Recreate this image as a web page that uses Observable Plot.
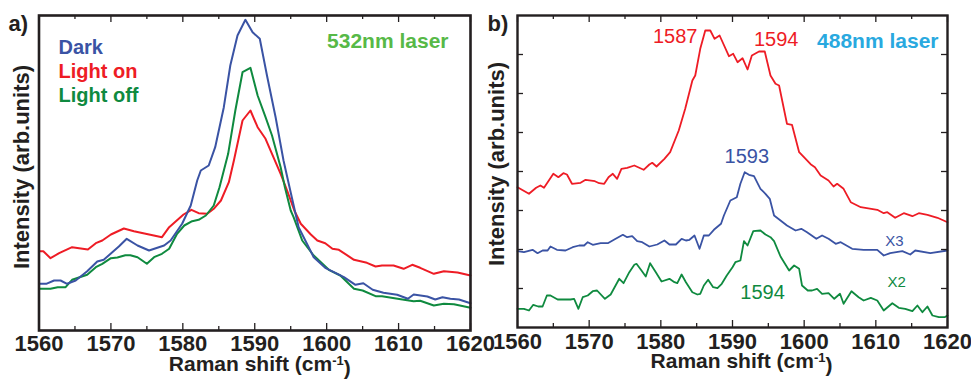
<!DOCTYPE html>
<html><head><meta charset="utf-8">
<script src="https://cdn.jsdelivr.net/npm/d3@7"></script>
<script src="https://cdn.jsdelivr.net/npm/@observablehq/plot@0.6"></script>
<style>
body{margin:0;background:#fff;}
#wrap{position:relative;width:971px;height:380px;overflow:hidden;background:#fff;}
#wrap svg{position:absolute;top:0;overflow:visible;}
</style></head><body><div id="wrap"></div>
<script>
// ---------- data (Raman shift cm-1, intensity arb. units) ----------
const xMajor = [1560, 1570, 1580, 1590, 1600, 1610, 1620];
const xMinor = [1565, 1575, 1585, 1595, 1605, 1615];
const bYTicks = [39, 78, 117, 156, 195, 234, 273];

// Panel a (532 nm)
const aDark = [[1560,46.7],[1561,46.7],[1562.1,50],[1563,50],[1563.9,46.7],[1565.1,50],[1566.7,59.3],[1568.1,69],[1569,70.7],[1571.1,84],[1572.2,91.7],[1573.7,85],[1575.3,80],[1577.4,85],[1578.3,90],[1579.9,106.7],[1581.1,125],[1582,150],[1582.5,160],[1583.6,165],[1584.5,183.3],[1585.7,223.3],[1586.6,265],[1587.6,295],[1588.7,310.7],[1589.7,298.3],[1590.7,291.7],[1591.7,255],[1592.9,213.3],[1594,170],[1595,138],[1596.1,103.3],[1598.2,73.3],[1599.8,62.7],[1601,58.3],[1602.4,53.3],[1604,45.7],[1605.1,47.3],[1606.4,40.7],[1607.9,37.7],[1609.8,35.7],[1611.3,31.7],[1612.1,36],[1614,34],[1615.1,31],[1616.1,33.3],[1617.2,31.7],[1618.4,31],[1620,27.3]];
const aLightOn = [[1560,79.3],[1560.6,79.3],[1561.6,72.3],[1562.8,77.3],[1564.6,83.3],[1566.8,81],[1567.9,87.3],[1568.8,90],[1570,96],[1571.8,102],[1573.2,99.3],[1577.1,93.3],[1578.1,103.3],[1580.1,116],[1581.2,120.7],[1582.2,117.3],[1583.4,116.7],[1584.3,121.7],[1585.3,130],[1586.4,148.3],[1587.1,170],[1588.3,210],[1589.4,220],[1590.4,203.3],[1591.5,191.7],[1592.4,176.7],[1593.6,156.7],[1594.5,140],[1595.5,120],[1596.4,106.7],[1597.8,96],[1598.7,90],[1599.8,87.3],[1600.8,81.7],[1601.7,80.7],[1603.8,70.7],[1605.6,67.7],[1606.8,64],[1607.7,65],[1609.3,65],[1610.7,61.7],[1611.9,65.7],[1613,62.7],[1614.9,56.7],[1616.3,59.3],[1618.2,58],[1620,55]];
const aLightOff = [[1560,41.7],[1561.6,41.7],[1562.6,43.3],[1563.7,43.3],[1564.6,50.7],[1566.7,55.7],[1567.9,63.3],[1568.8,66.7],[1570,72.3],[1570.9,73],[1572,75.3],[1572.7,75.3],[1573.7,73.3],[1575,66.7],[1576,73.3],[1577.1,76.7],[1578.1,81.7],[1579.2,96.7],[1580.2,105],[1581.3,109.3],[1582.2,110.7],[1583.2,115],[1584.3,125],[1585.1,143.3],[1586.3,176.7],[1587.3,220],[1588.3,258.3],[1589.4,262.7],[1590.4,235],[1591.5,213.3],[1592.4,195],[1593.6,163.3],[1594.2,143],[1595,120],[1595.4,113.3],[1596.6,90],[1598.2,75],[1600.3,60.7],[1601.9,55],[1603.8,41.7],[1605,40],[1606.8,34.3],[1607.7,34.3],[1610.3,31.3],[1612.1,29.3],[1613,29.7],[1614.9,25],[1616.3,26.7],[1617.7,26.3],[1620,22.7]];

// Panel b (488 nm)
const bRed = [[1560,140.3],[1561.6,133.7],[1562.6,139.7],[1563.2,142],[1563.7,139.7],[1565,153.7],[1565.7,150.3],[1566.4,154.3],[1566.9,153],[1567.6,143.7],[1568.8,144.7],[1569.5,147.7],[1570.8,146.3],[1571.4,144.3],[1572.1,143.7],[1572.7,150.3],[1573.3,153.7],[1573.9,148.7],[1574.5,158.7],[1575.3,159.7],[1576.3,162],[1577.6,157.7],[1578.4,163],[1578.8,164.7],[1579.4,161],[1580.5,168.7],[1581.3,175.3],[1582.5,197],[1583.4,218.7],[1584.4,247],[1584.8,252],[1585.5,278.7],[1586.2,297],[1586.9,297],[1587.5,288.7],[1588.2,292],[1589.5,271.3],[1590.1,273.7],[1590.7,265.3],[1591.4,269.3],[1592.1,258],[1592.7,272],[1593.7,276],[1594.5,276],[1595.3,252],[1596,243.7],[1596.5,242],[1597.6,203.7],[1598.3,202.7],[1599.3,175.3],[1600.9,163.3],[1601.5,160.3],[1602.3,152],[1603.4,147],[1604.1,141],[1604.6,143.7],[1605.5,138.7],[1606.5,125.3],[1607.9,120.3],[1610.2,117.7],[1611.1,114.3],[1611.6,115.3],[1612.7,109.7],[1613.9,114.3],[1615.1,111.3],[1616,114.3],[1617.2,112.7],[1618.6,109.7],[1620,105.3]];
const bBlue = [[1560,76.3],[1560.9,75.3],[1562.1,77.7],[1562.8,74.3],[1563.5,77],[1564.2,77],[1564.6,81],[1565.5,77.7],[1566.7,77],[1567.7,80.3],[1568.6,82],[1569.3,82],[1569.8,85.3],[1570.5,82.7],[1571.6,84.3],[1572.6,84.3],[1573.7,88.7],[1574.7,92.7],[1575.3,90.3],[1576,91.3],[1576.7,86.3],[1577.4,85.3],[1578.4,81],[1579.5,83],[1580.5,87],[1581.2,83],[1582.1,83],[1582.9,88.7],[1583.5,87],[1584,87.7],[1584.7,92],[1585.4,78.7],[1586,92],[1586.7,92],[1587.4,97.7],[1588.4,103.7],[1588.8,112],[1589.7,127],[1590.6,130.3],[1591.1,143.7],[1591.7,155.3],[1592.3,152.7],[1593,151.3],[1593.9,138.7],[1594.6,133.7],[1595.2,128.7],[1595.8,112],[1596.7,107],[1597.6,102],[1598.8,97],[1599.6,98.7],[1600.4,95.3],[1601.7,88.7],[1602.5,92],[1603.4,88.7],[1604.4,83.7],[1605.1,85.3],[1606.7,78.7],[1608.3,77.7],[1610.2,77.7],[1611.1,72],[1612,74.3],[1613.7,76.3],[1614.8,73],[1615.5,77],[1617.6,74.3],[1620,77]];
const bGreen = [[1560,18.7],[1560.9,18.7],[1561.6,17],[1562.2,22.7],[1562.9,21],[1563.5,21],[1564.1,32],[1564.6,32],[1565.6,28],[1567.4,28],[1567.9,28.7],[1568.5,18.7],[1569.1,30.3],[1569.8,32],[1570.5,36.3],[1571.1,37],[1572.2,28.7],[1573,33],[1574.2,48.7],[1574.8,44.3],[1575.6,55.3],[1576.3,62.7],[1576.6,63.7],[1577.3,57],[1577.9,51],[1578.5,64.3],[1579.3,55.3],[1580.1,46],[1581.2,48.7],[1581.9,45.3],[1582.3,44.3],[1582.9,53],[1583.5,45.3],[1584.4,35.3],[1585.1,33],[1585.5,33.7],[1586,42],[1586.6,47.7],[1587.3,40.3],[1587.9,39.3],[1588.5,43.7],[1589.2,52],[1590,60.3],[1590.4,65.3],[1591.1,67],[1591.6,86.3],[1592.1,82],[1592.9,96.3],[1593.9,97],[1594.6,93],[1595.3,90.3],[1595.8,86.3],[1596.7,71],[1597.9,57],[1598.6,62],[1599.3,58.7],[1599.7,42],[1600.5,37],[1601.1,37],[1601.8,38.7],[1602.5,33.7],[1603.4,34.3],[1604.2,28.7],[1605,33.7],[1605.5,23.7],[1606.6,36.3],[1607.6,30.3],[1608.3,27],[1609.3,29.7],[1610.2,27],[1611.1,17],[1612.3,24.3],[1613.2,19.7],[1614.1,18.7],[1615.1,16.3],[1615.8,22],[1616.5,15.3],[1617.2,21],[1617.9,12],[1618.8,10.3],[1619.6,10.3],[1620,12]];

// Text content
const legendA = ["Dark", "Light on", "Light off"];
const peakLabelsB = [
  {text: "1587", x: 1582.0, y: 291.4, series: "red", size: 20},
  {text: "1594", x: 1596.1, y: 288.4, series: "red", size: 20},
  {text: "1593", x: 1592.0, y: 171.4, series: "blue", size: 20},
  {text: "1594", x: 1594.2, y: 35.4, series: "green", size: 20},
  {text: "X3", x: 1612.6, y: 86.5, series: "blue", size: 15},
  {text: "X2", x: 1612.9, y: 45.5, series: "green", size: 15}
];

// ---------- styling ----------
const FONT = '"Liberation Sans", Arial, Helvetica, sans-serif';
const INK = "#231f20";
const C = {blue: "#3a53a4", red: "#ee1c25", green: "#0f8a3f", lgreen: "#57b947", lblue: "#29a9df"};
const legendColors = [C.blue, C.red, C.green];
const XLABEL = "Raman shift (cm-1)";
const YLABEL = "Intensity (arb.units)";

function tickMarks(innerH, innerW, yTicks) {
  const m = [];
  const sw = 1.3;
  m.push(Plot.tickX(xMajor, {x: d => d, insetTop: innerH - 7, stroke: INK, strokeWidth: sw}));
  m.push(Plot.tickX(xMajor, {x: d => d, insetBottom: innerH - 7, stroke: INK, strokeWidth: sw}));
  m.push(Plot.tickX(xMinor, {x: d => d, insetTop: innerH - 4, stroke: INK, strokeWidth: sw}));
  m.push(Plot.tickX(xMinor, {x: d => d, insetBottom: innerH - 4, stroke: INK, strokeWidth: sw}));
  if (yTicks) {
    m.push(Plot.tickY(yTicks, {y: d => d, insetRight: innerW - 6, stroke: INK, strokeWidth: sw}));
    m.push(Plot.tickY(yTicks, {y: d => d, insetLeft: innerW - 6, stroke: INK, strokeWidth: sw}));
  }
  return m;
}

function commonText(tag, tagDx, labelPad, ylabDx, ylabDy, xlabDx) {
  return [
    Plot.text(xMajor, {x: d => d, frameAnchor: "bottom", dy: labelPad, lineAnchor: "top", textAnchor: "middle", text: d => String(d), fontSize: 22, fontWeight: "bold", fill: INK}),
    Plot.text([XLABEL], {frameAnchor: "bottom", dy: 34, dx: xlabDx, lineAnchor: "middle", textAnchor: "middle", text: d => d, fontSize: 21, fontWeight: "bold", fill: INK}),
    Plot.text([YLABEL], {frameAnchor: "left", rotate: -90, dx: ylabDx, dy: ylabDy, lineAnchor: "middle", textAnchor: "middle", text: d => d, fontSize: 22, fontWeight: "bold", fill: INK}),
    Plot.text([tag], {frameAnchor: "top-left", dx: tagDx, dy: 8, textAnchor: "start", lineAnchor: "middle", text: d => d, fontSize: 22, fontWeight: "bold", fill: INK})
  ];
}

// ---------- panel a ----------
const aW = 485, aH = 380, aML = 38.5, aMR = 15, aMT = 15, aMB = 50;
const aInnerH = aH - aMT - aMB, aInnerW = aW - aML - aMR;
const plotA = Plot.plot({
  width: aW, height: aH, marginLeft: aML, marginRight: aMR, marginTop: aMT, marginBottom: aMB,
  x: {domain: [1560, 1620], axis: null},
  y: {domain: [0, 315], axis: null},
  style: {fontFamily: FONT, background: "transparent", overflow: "visible"},
  marks: [
    Plot.line(aLightOn, {x: d => d[0], y: d => d[1], stroke: C.red, strokeWidth: 2}),
    Plot.line(aLightOff, {x: d => d[0], y: d => d[1], stroke: C.green, strokeWidth: 2}),
    Plot.line(aDark, {x: d => d[0], y: d => d[1], stroke: C.blue, strokeWidth: 2}),
    ...tickMarks(aInnerH, aInnerW, null),
    Plot.frame({stroke: INK, strokeWidth: 2.6}),
    ...legendA.map((t, i) => Plot.text([t], {frameAnchor: "top-left", dx: 19.5, dy: 31.6 + 24 * i, text: d => d, fontSize: 20, fontWeight: "bold", textAnchor: "start", lineAnchor: "middle", fill: legendColors[i]})),
    Plot.text(["532nm laser"], {frameAnchor: "top-right", dx: -22, dy: 25.6, textAnchor: "end", lineAnchor: "middle", text: d => d, fontSize: 21, fontWeight: "bold", fill: C.lgreen}),
    ...commonText("a)", -30.5, 5, -17, -6, 5)
  ]
});

// ---------- panel b ----------
const bW = 486, bH = 380, bML = 32, bMR = 24, bMT = 15, bMB = 53;
const bInnerH = bH - bMT - bMB, bInnerW = bW - bML - bMR;
const plotB = Plot.plot({
  width: bW, height: bH, marginLeft: bML, marginRight: bMR, marginTop: bMT, marginBottom: bMB,
  x: {domain: [1560, 1620], axis: null},
  y: {domain: [0, 312], axis: null},
  style: {fontFamily: FONT, background: "transparent", overflow: "visible"},
  marks: [
    Plot.line(bRed, {x: d => d[0], y: d => d[1], stroke: C.red, strokeWidth: 1.8}),
    Plot.line(bBlue, {x: d => d[0], y: d => d[1], stroke: C.blue, strokeWidth: 1.8}),
    Plot.line(bGreen, {x: d => d[0], y: d => d[1], stroke: C.green, strokeWidth: 1.8}),
    ...tickMarks(bInnerH, bInnerW, bYTicks),
    Plot.frame({stroke: INK, strokeWidth: 2.4}),
    Plot.text(peakLabelsB, {x: "x", y: "y", text: "text", fill: d => C[d.series], fontSize: d => d.size, lineAnchor: "middle", textAnchor: "middle"}),
    Plot.text(["488nm laser"], {frameAnchor: "top-right", dx: -9, dy: 25.6, textAnchor: "end", lineAnchor: "middle", text: d => d, fontSize: 21, fontWeight: "bold", fill: C.lblue}),
    ...commonText("b)", -30, 6, -21, -7.5, 9)
  ]
});

// superscript in x label
for (const svg of [plotA, plotB]) {
  d3.select(svg).selectAll("text").filter(function(){ return this.textContent === XLABEL; }).each(function(){
    const t = d3.select(this);
    t.text(null);
    t.append("tspan").text("Raman shift (cm");
    t.append("tspan").attr("dy", "-0.45em").attr("font-size", "13px").text("-1");
    t.append("tspan").attr("dy", "0.45em").text(")");
  });
}

const wrap = document.getElementById("wrap");
plotA.style.left = "0px";
plotB.style.left = "485px";
wrap.appendChild(plotA);
wrap.appendChild(plotB);
</script>
</body></html>
